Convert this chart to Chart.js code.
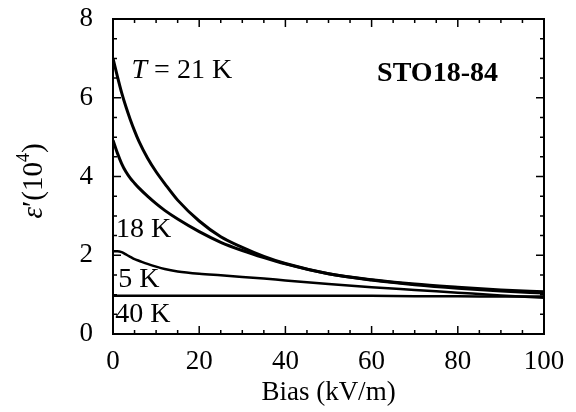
<!DOCTYPE html>
<html>
<head>
<meta charset="utf-8">
<script src="https://cdn.jsdelivr.net/npm/chart.js@4.4.1/dist/chart.umd.min.js"></script>
<style>
  body { margin: 0; background: #fff; }
  #wrap { width: 576px; height: 412px; }
</style>
</head>
<body>
<div id="wrap"><canvas id="eps"></canvas></div>
<script>
// bias field (kV/m) and dielectric constant (units of 10^4)
const bias   = [0, 1, 2, 3, 4, 5, 6, 8, 10, 12, 15, 20, 25, 30, 35, 40, 50, 60, 70, 80, 90, 100];
const eps21K = [7.0, 6.55, 6.13, 5.77, 5.45, 5.16, 4.9, 4.47, 4.12, 3.82, 3.4, 2.87, 2.47, 2.2, 1.97, 1.79, 1.53, 1.38, 1.27, 1.19, 1.12, 1.07];
const eps18K = [4.92, 4.6, 4.33, 4.12, 3.96, 3.83, 3.71, 3.5, 3.31, 3.14, 2.92, 2.6, 2.33, 2.12, 1.94, 1.78, 1.53, 1.37, 1.25, 1.16, 1.09, 1.04];
const eps5K  = [2.1, 2.1, 2.08, 2.02, 1.96, 1.9, 1.86, 1.78, 1.71, 1.65, 1.59, 1.53, 1.49, 1.45, 1.41, 1.36, 1.27, 1.19, 1.12, 1.05, 0.98, 0.92];
const eps40K = [0.97, 0.97, 0.97, 0.97, 0.97, 0.97, 0.97, 0.97, 0.97, 0.97, 0.97, 0.97, 0.97, 0.97, 0.97, 0.97, 0.97, 0.97, 0.96, 0.96, 0.95, 0.95];
const xTicks = [0, 20, 40, 60, 80, 100];
const yTicks = [0, 2, 4, 6, 8];

const SERIF = "'Liberation Serif', 'DejaVu Serif', serif";
Chart.defaults.font.family = SERIF;
Chart.defaults.color = '#000';

const pts = ys => bias.map((b, i) => ({ x: b, y: ys[i] }));

function curve(label, ys, w) {
  return {
    label: label,
    data: pts(ys),
    borderColor: '#000',
    borderWidth: w,
    pointRadius: 0,
    cubicInterpolationMode: 'monotone',
    fill: false
  };
}

// frame with inward ticks on all four sides
const frame = {
  id: 'frame',
  afterDraw(chart) {
    const { ctx, chartArea: a, scales: { x, y } } = chart;
    ctx.save();
    ctx.strokeStyle = '#000';
    ctx.lineWidth = 1.5;
    ctx.beginPath();
    for (let v = 0; v <= 100; v += 5) {
      const px = x.getPixelForValue(v);
      const len = v % 20 === 0 ? 8 : 4;
      ctx.moveTo(px, a.bottom); ctx.lineTo(px, a.bottom - len);
      ctx.moveTo(px, a.top); ctx.lineTo(px, a.top + len);
    }
    for (let v = 0; v <= 8; v += 0.5) {
      const py = y.getPixelForValue(v);
      const len = v % 2 === 0 ? 8 : 4;
      ctx.moveTo(a.left, py); ctx.lineTo(a.left + len, py);
      ctx.moveTo(a.right, py); ctx.lineTo(a.right - len, py);
    }
    ctx.stroke();
    ctx.lineWidth = 2;
    ctx.strokeRect(a.left, a.top, a.width, a.height);
    ctx.restore();
  }
};

// run of text pieces with their own fonts and vertical shifts
function drawRun(ctx, parts, x0, y0, align) {
  let total = 0;
  parts.forEach(p => { ctx.font = p.font; p.w = ctx.measureText(p.t).width; total += p.w; });
  let cx = align === 'center' ? x0 - total / 2 : x0;
  ctx.textBaseline = 'middle';
  ctx.textAlign = 'left';
  parts.forEach(p => {
    ctx.font = p.font;
    ctx.fillText(p.t, cx, y0 + (p.dy || 0));
    cx += p.w;
  });
}

const labels = {
  id: 'labels',
  afterDraw(chart) {
    const { ctx, chartArea: a, scales: { x, y } } = chart;
    ctx.save();
    ctx.fillStyle = '#000';
    const reg = '28px ' + SERIF;
    drawRun(ctx, [{ t: 'T', font: 'italic 28px ' + SERIF }, { t: ' = 21 K', font: reg }],
      x.getPixelForValue(4.3), y.getPixelForValue(6.7), 'left');
    drawRun(ctx, [{ t: 'STO18-84', font: 'bold 28px ' + SERIF }],
      x.getPixelForValue(75.3), y.getPixelForValue(6.62), 'center');
    drawRun(ctx, [{ t: '18 K', font: reg }], x.getPixelForValue(0.7), y.getPixelForValue(2.64), 'left');
    drawRun(ctx, [{ t: '5 K', font: reg }], x.getPixelForValue(1.2), y.getPixelForValue(1.37), 'left');
    drawRun(ctx, [{ t: '40 K', font: reg }], x.getPixelForValue(0.5), y.getPixelForValue(0.48), 'left');

    // y axis title, rotated
    ctx.translate(34, 181);
    ctx.rotate(-Math.PI / 2);
    drawRun(ctx, [
      { t: 'ε', font: 'italic 29px ' + SERIF },
      { t: '′(10', font: '29px ' + SERIF },
      { t: '4', font: '18px ' + SERIF, dy: -10 },
      { t: ')', font: '29px ' + SERIF }
    ], 0, 0, 'center');
    ctx.restore();
  }
};

new Chart(document.getElementById('eps'), {
  type: 'line',
  data: {
    datasets: [
      curve('21 K', eps21K, 3),
      curve('18 K', eps18K, 3),
      curve('5 K', eps5K, 2.5),
      curve('40 K', eps40K, 2.5)
    ]
  },
  options: {
    responsive: true,
    maintainAspectRatio: false,
    animation: false,
    layout: { padding: { top: 19, right: 32, left: 0, bottom: 0 } },
    plugins: { legend: { display: false }, tooltip: { enabled: false } },
    scales: {
      x: {
        type: 'linear',
        min: 0,
        max: 100,
        afterBuildTicks: s => { s.ticks = xTicks.map(v => ({ value: v })); },
        afterFit: s => { s.height = 78; s.paddingLeft = 0; s.paddingRight = 0; },
        grid: { display: false, drawTicks: false },
        border: { display: false },
        ticks: { font: { size: 27 }, color: '#000', padding: 12, maxRotation: 0 },
        title: { display: true, text: 'Bias (kV/m)', font: { size: 27 }, color: '#000', padding: { top: 0, bottom: 3 } }
      },
      y: {
        type: 'linear',
        min: 0,
        max: 8,
        afterBuildTicks: s => { s.ticks = yTicks.map(v => ({ value: v })); },
        afterFit: s => { s.width = 113; s.paddingTop = 0; s.paddingBottom = 0; },
        grid: { display: false, drawTicks: false },
        border: { display: false },
        ticks: { font: { size: 27 }, color: '#000', padding: 20 }
      }
    }
  },
  plugins: [frame, labels]
});
</script>
</body>
</html>
